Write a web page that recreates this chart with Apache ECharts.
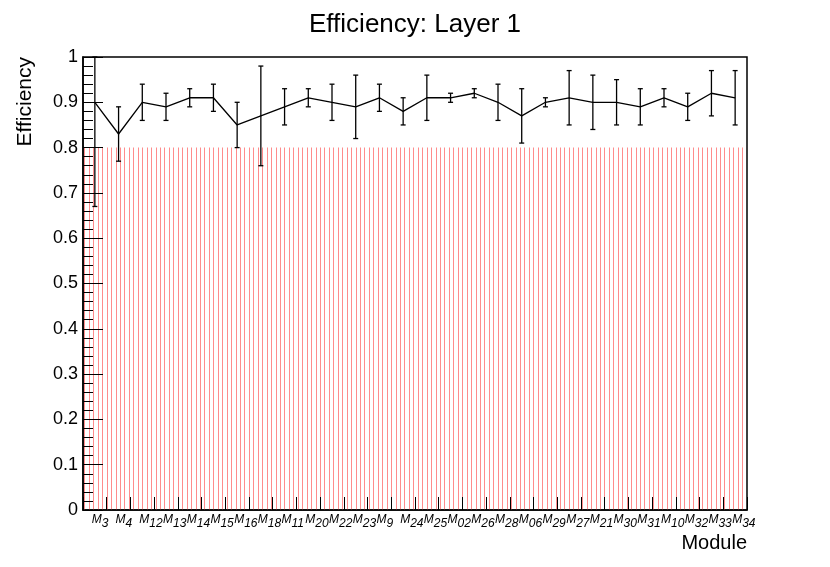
<!DOCTYPE html>
<html>
<head>
<meta charset="utf-8">
<script src="https://cdn.jsdelivr.net/npm/echarts@6/dist/echarts.min.js"></script>
<style>html,body{margin:0;padding:0;background:#fff;}#c{width:830px;height:567px;}</style>
</head>
<body>
<div id="c"></div>
<script>
const categories = ['M3','M4','M12','M13','M14','M15','M16','M18','M11','M20','M22','M23','M9','M24','M25','M02','M26','M28','M06','M29','M27','M21','M30','M31','M10','M32','M33','M34'];
const efficiency = [0.90,0.83,0.90,0.89,0.91,0.91,0.85,0.87,0.89,0.91,0.90,0.89,0.91,0.88,0.91,0.91,0.92,0.90,0.87,0.90,0.91,0.90,0.90,0.89,0.91,0.89,0.92,0.91];
const upperBound = [1.00,0.89,0.94,0.92,0.93,0.94,0.90,0.98,0.93,0.93,0.94,0.96,0.94,0.91,0.96,0.92,0.93,0.94,0.93,0.91,0.97,0.96,0.95,0.93,0.93,0.92,0.97,0.97];
const lowerBound = [0.67,0.77,0.86,0.86,0.89,0.88,0.80,0.76,0.85,0.89,0.86,0.82,0.88,0.85,0.86,0.90,0.91,0.86,0.81,0.89,0.85,0.84,0.85,0.85,0.89,0.86,0.87,0.85];
const hatchRange = [0, 0.8];

const FONT = '"Liberation Sans", Arial, Helvetica, sans-serif';

// vertical hatch pattern tile
const tile = document.createElement('canvas');
tile.width = 40; tile.height = 4;
const tctx = tile.getContext('2d');
tctx.fillStyle = 'rgb(255,140,140)';
for (let i = 0; i < 9; i++) {
  tctx.fillRect(Math.round(i * 40 / 9), 0, 1, 4);
}

const errData = categories.map((c, i) => [i, efficiency[i], lowerBound[i], upperBound[i]]);

const chart = echarts.init(document.getElementById('c'), null, {renderer: 'canvas'});
chart.setOption({
  animation: false,
  backgroundColor: '#fff',
  title: {
    text: 'Efficiency: Layer 1',
    left: 'center',
    top: 7,
    textStyle: {fontFamily: FONT, fontSize: 26, fontWeight: 'normal', color: '#000'}
  },
  grid: {left: 83, right: 83, top: 57, bottom: 57, show: true, borderColor: '#000', borderWidth: 1.5, backgroundColor: 'transparent'},
  xAxis: {
    type: 'category',
    z: 10,
    data: categories,
    boundaryGap: true,
    axisLine: {lineStyle: {color: '#000', width: 1.5}},
    axisTick: {show: true, inside: true, length: 13, interval: 0, lineStyle: {color: '#000', width: 1}},
    axisLabel: {
      interval: 0,
      margin: 4,
      align: 'left',
      padding: [0, 0, 0, -3],
      formatter: function (v) { return '{m|' + v.charAt(0) + '}{s|' + v.slice(1) + '}'; },
      rich: {
        m: {fontFamily: FONT, fontStyle: 'italic', fontSize: 12, color: '#000', lineHeight: 13, verticalAlign: 'top'},
        s: {fontFamily: FONT, fontStyle: 'italic', fontSize: 12, color: '#000', lineHeight: 16, verticalAlign: 'bottom'}
      }
    },
    splitLine: {show: false}
  },
  yAxis: {
    type: 'value',
    z: 10,
    min: 0, max: 1, interval: 0.1,
    axisLine: {show: true, lineStyle: {color: '#000', width: 1.5}},
    axisTick: {show: true, inside: true, length: 20, lineStyle: {color: '#000', width: 1}},
    minorTick: {show: true, splitNumber: 5, length: 10, lineStyle: {color: '#000', width: 1}},
    axisLabel: {margin: 5, fontFamily: FONT, fontSize: 18, color: '#000'},
    splitLine: {show: false}
  },
  graphic: [
    {type: 'text', x: 15, y: 57, rotation: Math.PI / 2,
     style: {text: 'Efficiency', fontFamily: FONT, fontSize: 21, fill: '#000', textAlign: 'right', textVerticalAlign: 'top'}},
    {type: 'text', x: 747, y: 533,
     style: {text: 'Module', fontFamily: FONT, fontSize: 20, fill: '#000', textAlign: 'right', textVerticalAlign: 'top'}}
  ],
  series: [
    {
      type: 'line', data: [], z: 1, silent: true,
      markArea: {
        silent: true,
        itemStyle: {color: {image: tile, repeat: 'repeat'}, opacity: 1, borderWidth: 0},
        data: [[{yAxis: hatchRange[0]}, {yAxis: hatchRange[1]}]]
      }
    },
    {
      type: 'line', data: efficiency, z: 4, showSymbol: false, symbol: 'none',
      lineStyle: {color: '#000', width: 1.3}, silent: true
    },
    {
      type: 'custom', z: 5, silent: true,
      data: errData,
      renderItem: function (params, api) {
        const i = api.value(0);
        const lo = api.coord([i, api.value(2)]);
        const hi = api.coord([i, api.value(3)]);
        const cap = 2.5;
        const st = {stroke: '#000', lineWidth: 1.3};
        return {
          type: 'group',
          children: [
            {type: 'line', shape: {x1: lo[0], y1: lo[1], x2: hi[0], y2: hi[1]}, style: st},
            {type: 'line', shape: {x1: lo[0] - cap, y1: lo[1], x2: lo[0] + cap, y2: lo[1]}, style: st},
            {type: 'line', shape: {x1: hi[0] - cap, y1: hi[1], x2: hi[0] + cap, y2: hi[1]}, style: st}
          ]
        };
      }
    }
  ]
});
</script>
</body>
</html>
